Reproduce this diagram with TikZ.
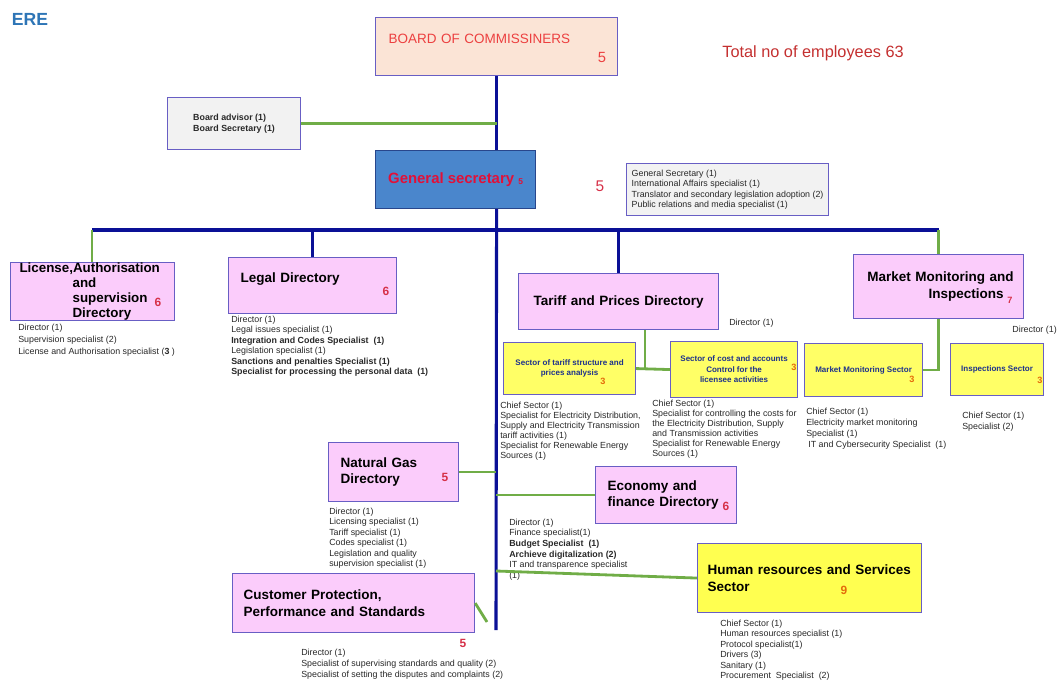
\documentclass[tikz,border=0pt]{standalone}
\usepackage{fontspec}
\setmainfont{Liberation Sans}
\usetikzlibrary{calc}

\definecolor{boxline}{RGB}{104,94,196}
\definecolor{dirpink}{RGB}{251,204,251}
\definecolor{peach}{RGB}{251,228,214}
\definecolor{panelgrey}{RGB}{242,242,242}
\definecolor{gsblue}{RGB}{74,134,204}
\definecolor{gsline}{RGB}{40,70,140}
\definecolor{secyellow}{RGB}{255,255,102}
\definecolor{hryellow}{RGB}{255,255,80}
\definecolor{sectblue}{RGB}{30,50,140}
\definecolor{trunkblue}{RGB}{10,16,150}
\definecolor{linkgreen}{RGB}{112,173,71}
\definecolor{numred}{RGB}{214,48,72}
\definecolor{numorange}{RGB}{228,108,10}
\definecolor{boardred}{RGB}{236,64,64}
\definecolor{gsred}{RGB}{226,16,56}
\definecolor{totalred}{RGB}{196,48,48}
\definecolor{ereblue}{RGB}{46,117,182}
\definecolor{stafftext}{RGB}{40,40,40}

\newcommand{\titlefont}{\fontsize{9.6}{12}\selectfont\bfseries}
\newcommand{\stafffont}{\fontsize{6.3}{7.5}\selectfont}
\newcommand{\sectfont}{\fontsize{5.7}{7.5}\selectfont\bfseries}
\newcommand{\numfont}{\fontsize{8.5}{10}\selectfont\bfseries}
\newcommand{\snumfont}{\fontsize{6.5}{8}\selectfont\bfseries}

\begin{document}
\begin{tikzpicture}[x=0.025cm,y=-0.025cm,
  box/.style={draw=boxline,line width=0.8pt,anchor=north west,inner ysep=0pt},
  dirbox/.style={box,fill=dirpink,font=\titlefont,align=left,inner xsep=0.3cm},
  secbox/.style={box,fill=secyellow,font=\sectfont,text=sectblue,align=center},
  staff/.style={anchor=north west,align=left,inner sep=0pt,font=\stafffont,text=stafftext},
  num/.style={font=\numfont,text=numred},
  snum/.style={font=\snumfont,text=numorange},
  trunk/.style={trunkblue,line width=2.2pt},
  link/.style={linkgreen,line width=2pt}]
  \useasboundingbox (0,0) rectangle (1059,682);

  % top
  \node[font=\fontsize{12.5}{14}\selectfont\bfseries,text=ereblue] (ere) at (30,19) {ERE};
  \node[box,fill=peach,minimum width=6.05cm,minimum height=1.45cm,align=left,text width=5.4cm,
        inner xsep=0.325cm,text depth=0.4cm,font=\fontsize{9.6}{12}\selectfont,text=boardred] (board) at (375,17) {BOARD OF COMMISSINERS};
  \node[font=\fontsize{10.5}{12}\selectfont,text=boardred] (boardnum) at (602,57) {5};
  \node[font=\fontsize{11.6}{14}\selectfont,text=totalred] (total) at (813,53) {Total no of employees 63};
  \node[box,fill=panelgrey,minimum width=3.325cm,minimum height=1.3cm,align=left,
        font=\fontsize{6.3}{8}\selectfont\bfseries,text=stafftext] (advisor) at (167,97) {Board advisor (1)\\Board Secretary (1)};
  \node[box,draw=gsline,fill=gsblue,minimum width=4cm,minimum height=1.45cm,
        font=\fontsize{10.6}{12}\selectfont\bfseries,text=gsred] (gensec) at (375,150)
        {General secretary \raisebox{-1pt}{\fontsize{6}{7}\selectfont 5}};
  \node[font=\fontsize{11}{13}\selectfont,text=numred] (gsnum) at (600,186) {5};
  \node[box,fill=panelgrey,minimum width=5.05cm,minimum height=1.3cm,align=left,inner xsep=0.1cm,
        font=\stafffont,text=stafftext] (gsstaff) at (626,163)
        {General Secretary (1)\\International Affairs specialist (1)\\Translator and secondary legislation adoption (2)\\Public relations and media specialist (1)};

  % directories
  \node[dirbox,minimum width=4.1cm,minimum height=1.45cm,text width=3.65cm,inner xsep=0.225cm,
        font=\fontsize{9.5}{10.7}\selectfont\bfseries] (license) at (10,262)
        {License,Authorisation\\\hspace*{1.325cm}and\\\hspace*{1.325cm}supervision\\\hspace*{1.325cm}Directory};
  \node[num] (licnum) at (158,302) {6};
  \node[staff,font=\fontsize{6.3}{8.5}\selectfont] (licstaff) at (18,323.5)
        {Director (1)\\Supervision specialist (2)\\License and Authorisation specialist ({\bfseries 3} )};

  \node[dirbox,minimum width=4.2cm,minimum height=1.4cm,text width=3.6cm,text depth=0.42cm] (legal) at (228,257) {Legal Directory};
  \node[num] (legalnum) at (386,291) {6};
  \node[staff] (legalstaff) at (231,315.5)
        {Director (1)\\Legal issues specialist (1)\\\textbf{Integration and Codes Specialist\ \ (1)}\\Legislation specialist (1)\\
         \textbf{Sanctions and penalties Specialist (1)}\\\textbf{Specialist for processing the personal data\ \ (1)}};

  \node[dirbox,align=center,minimum width=5cm,minimum height=1.4cm,text width=4.4cm] (tariff) at (518,273) {Tariff and Prices Directory};
  \node[staff] (tariffdir) at (729,318.5) {Director (1)};

  \node[dirbox,align=right,minimum width=4.25cm,minimum height=1.6cm,text width=3.75cm,inner xsep=0.25cm] (market) at (853,254)
        {Market Monitoring and\\Inspections\rule{0.25cm}{0pt}};
  \node[font=\fontsize{6.5}{8}\selectfont\bfseries,text=numred] (marketnum) at (1010,300) {7};
  \node[staff,anchor=north east] (marketdir) at (1057,325.5) {Director (1)};

  % sectors
  \node[secbox,minimum width=3.3cm,minimum height=1.3cm] (sectariff) at (503,342) {Sector of tariff structure and\\prices analysis};
  \node[snum] (sectariffnum) at (603,381) {3};
  \node[staff,font=\fontsize{6.3}{7.2}\selectfont] (sectariffstaff) at (500,401.5)
        {Chief Sector (1)\\Specialist for Electricity Distribution,\\Supply and Electricity Transmission\\tariff activities (1)\\Specialist for Renewable Energy\\Sources (1)};

  \node[secbox,minimum width=3.175cm,minimum height=1.4cm] (seccost) at (670,341) {Sector of cost and accounts\\Control for the\\licensee activities};
  \node[snum] (seccostnum) at (794,367) {3};
  \node[staff,font=\fontsize{6.3}{7.2}\selectfont] (seccoststaff) at (652,399.5)
        {Chief Sector (1)\\Specialist for controlling the costs for\\the Electricity Distribution, Supply\\and Transmission activities\\Specialist for Renewable Energy\\Sources (1)};

  \node[secbox,minimum width=2.95cm,minimum height=1.325cm] (secmarket) at (804,343) {Market Monitoring Sector};
  \node[snum] (secmarketnum) at (912,379) {3};
  \node[staff,font=\fontsize{6.3}{7.8}\selectfont] (secmarketstaff) at (806,407.5)
        {Chief Sector (1)\\Electricity market monitoring\\Specialist (1)\\\hspace*{1.5pt}IT and Cybersecurity Specialist\ \ (1)};

  \node[secbox,minimum width=2.325cm,minimum height=1.3cm] (secinsp) at (950,343) {Inspections Sector};
  \node[snum] (secinspnum) at (1040,380) {3};
  \node[staff,font=\fontsize{6.3}{7.8}\selectfont] (secinspstaff) at (962,411.5) {Chief Sector (1)\\Specialist (2)};

  % lower directories
  \node[dirbox,minimum width=3.25cm,minimum height=1.475cm,text width=2.65cm] (natgas) at (328,442) {Natural Gas\\Directory};
  \node[num] (natgasnum) at (445,477) {5};
  \node[staff] (natgasstaff) at (329,507.5)
        {Director (1)\\Licensing specialist (1)\\Tariff specialist (1)\\Codes specialist (1)\\Legislation and quality\\supervision specialist (1)};

  \node[dirbox,minimum width=3.525cm,minimum height=1.425cm,text width=2.925cm] (econ) at (595,466) {Economy and\\finance Directory};
  \node[num] (econnum) at (726,506) {6};
  \node[staff,font=\fontsize{6.3}{7.6}\selectfont] (econstaff) at (509,518.5)
        {Director (1)\\Finance specialist(1)\\\textbf{Budget Specialist\ \ (1)}\\\textbf{Archieve digitalization (2)}\\IT and transparence specialist\\(1)};

  \node[dirbox,fill=hryellow,minimum width=5.6cm,minimum height=1.725cm,text width=5.1cm,inner xsep=0.25cm] (hr) at (697,543)
        {Human resources and Services\\Sector};
  \node[font=\numfont,text=numorange] (hrnum) at (844,590) {9};
  \node[staff] (hrstaff) at (720,619.5)
        {Chief Sector (1)\\Human resources specialist (1)\\Protocol specialist(1)\\Drivers (3)\\Sanitary (1)\\Procurement\ \ Specialist\ \ (2)};

  \node[dirbox,minimum width=6.05cm,minimum height=1.475cm,text width=5.5cm,inner xsep=0.275cm] (customer) at (232,573)
        {Customer Protection,\\Performance and Standards};
  \node[num] (customernum) at (463,643) {5};
  \node[staff,font=\fontsize{6.3}{7.8}\selectfont] (customerstaff) at (301,648.5)
        {Director (1)\\Specialist of supervising standards and quality (2)\\Specialist of setting the disputes and complaints (2)};

  % connectors
  \coordinate (busL) at (92,230);
  \coordinate (busR) at (market.north |- busL);
  \coordinate (trunkend) at (496,630);
  \coordinate (tsplit) at (645,368);
  \coordinate (hrjoin) at (496,571);
  \coordinate (custstub) at (487,622);

  \draw[trunk] (board.south) -- (board.south |- gensec.north);
  \draw[trunk] (board.south |- gensec.south) -- (trunkend);
  \draw[link] (advisor.east) -- (advisor.east -| board.south);
  \draw[trunk,line width=3pt] (busL) -- (busR);
  \draw[link] (busL) -- (busL |- license.north);
  \draw[trunk] (legal.north |- busL) -- (legal.north);
  \draw[trunk] (tariff.north |- busL) -- (tariff.north);
  \draw[link] (busR) -- (market.north);
  \draw[link] (tsplit |- tariff.south) -- (tsplit);
  \draw[link] (sectariff.east) -- (seccost.west);
  \draw[link] (market.south) |- (secmarket.east);
  \draw[link] (natgas.east) -- (natgas.east -| trunkend);
  \draw[link] (econ.west -| trunkend) -- (econ.west);
  \draw[link] (hrjoin) -- (hr.west);
  \draw[link] (customer.east) -- (custstub);
\end{tikzpicture}
\end{document}
